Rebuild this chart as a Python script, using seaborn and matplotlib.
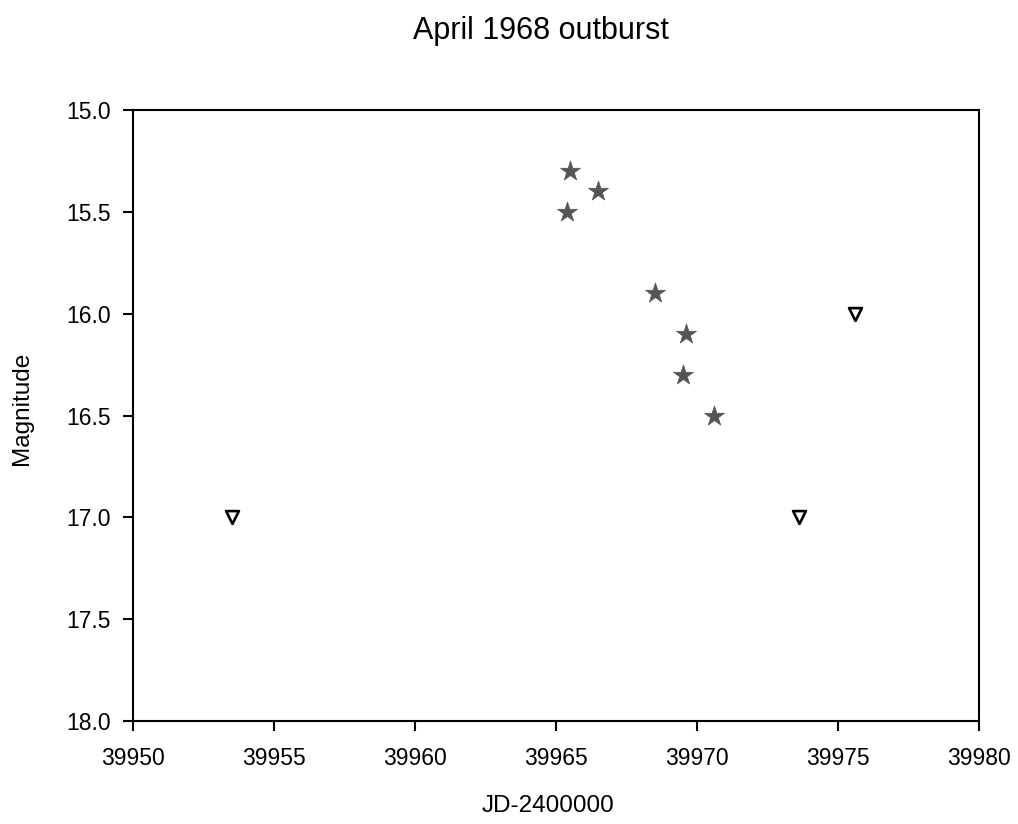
import matplotlib.pyplot as plt
import pandas as pd
import seaborn as sns

# Detections (stars) and upper limits (open triangles)
det_jd = [39965.5, 39966.5, 39965.4, 39968.5, 39969.6, 39969.5, 39970.6]
det_mag = [15.3, 15.4, 15.5, 15.9, 16.1, 16.3, 16.5]
lim_jd = [39953.5, 39973.6, 39975.6]
lim_mag = [17.0, 17.0, 16.0]

det = pd.DataFrame({'jd': det_jd, 'mag': det_mag})
lim = pd.DataFrame({'jd': lim_jd, 'mag': lim_mag})

sns.set_style('white')
plt.rcParams['font.family'] = ['Liberation Sans', 'DejaVu Sans']
plt.rcParams['text.color'] = 'black'
plt.rcParams['xtick.color'] = 'black'
plt.rcParams['ytick.color'] = 'black'

fig = plt.figure(figsize=(10.18, 8.24), dpi=100)
ax = fig.add_axes([0.1306, 0.125, 0.8311, 0.7415])

sns.scatterplot(data=det, x='jd', y='mag', marker='*', s=230, color='#555555',
                edgecolor='#555555', linewidth=0.5, ax=ax)
sns.scatterplot(data=lim, x='jd', y='mag', marker='v', s=85, color='white',
                edgecolor='black', linewidth=1.9, ax=ax)

ax.set_xlim(39950, 39980)
ax.set_ylim(18.0, 15.0)
ax.set_xticks(range(39950, 39981, 5))
ax.set_yticks([15.0, 15.5, 16.0, 16.5, 17.0, 17.5, 18.0])
ax.set_yticklabels(['15.0', '15.5', '16.0', '16.5', '17.0', '17.5', '18.0'])
ax.tick_params(axis='both', which='both', direction='out', length=7, width=1.5,
               labelsize=16.5, labelcolor='black', top=False, right=False,
               bottom=True, left=True)
ax.tick_params(axis='x', pad=12)
ax.tick_params(axis='y', pad=9)
for sp in ax.spines.values():
    sp.set_color('black')
    sp.set_linewidth(1.5)

ax.set_xlabel('')
ax.set_ylabel('')
fig.text(0.538, 0.022, 'JD-2400000', ha='center', va='center', fontsize=17.5)
fig.text(0.022, 0.504, 'Magnitude', ha='center', va='center', rotation=90, fontsize=17.5)
fig.text(0.531, 0.962, 'April 1968 outburst', ha='center', va='center', fontsize=22)

fig.savefig('out.png', dpi=100)
